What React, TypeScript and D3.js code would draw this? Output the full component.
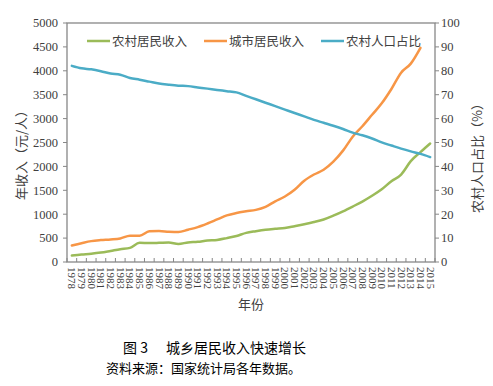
import React from "react";
import * as d3 from "d3";

const years: string[] = [
  "1978","1979","1980","1981","1982","1983","1984","1985","1986","1987",
  "1988","1989","1990","1991","1992","1993","1994","1995","1996","1997",
  "1998","1999","2000","2001","2002","2003","2004","2005","2006","2007",
  "2008","2009","2010","2011","2012","2013","2014","2015",
];

const ruralIncome: (number | null)[] = [
  134, 155, 172, 197, 232, 268, 296, 401, 396, 401,
  408, 378, 410, 423, 450, 462, 500, 545, 610, 645,
  675, 695, 712, 750, 790, 835, 890, 970, 1060, 1160,
  1265, 1385, 1520, 1690, 1830, 2110, 2300, 2480,
];

const urbanIncome: (number | null)[] = [
  345, 394, 437, 458, 472, 493, 549, 549, 641, 648,
  634, 627, 676, 730, 805, 890, 975, 1025, 1060, 1090,
  1155, 1270, 1370, 1510, 1700, 1830, 1930, 2100, 2330, 2622,
  2840, 3080, 3320, 3620, 3960, 4150, 4480, null,
];

const ruralShare: (number | null)[] = [
  82.08, 81.04, 80.61, 79.84, 78.87, 78.38, 76.99, 76.29, 75.48, 74.68,
  74.19, 73.79, 73.59, 73.06, 72.54, 71.99, 71.49, 70.96, 69.52, 68.09,
  66.65, 65.22, 63.78, 62.34, 60.91, 59.47, 58.24, 57.01, 55.66, 54.11,
  53.01, 51.66, 50.05, 48.73, 47.43, 46.27, 45.23, 43.9,
];

const leftTicks: number[] = [0, 500, 1000, 1500, 2000, 2500, 3000, 3500, 4000, 4500, 5000];
const rightTicks: number[] = [0, 10, 20, 30, 40, 50, 60, 70, 80, 90, 100];

const seriesNames: string[] = ["农村居民收入", "城市居民收入", "农村人口占比"];
const seriesColors: string[] = ["#9BBB59", "#F79646", "#4BACC6"];

const leftTitle = "年收入（元/人）";
const rightTitle = "农村人口占比（%）";
const xTitle = "年份";
const captionFig = "图 3";
const captionTitle = "城乡居民收入快速增长";
const captionSource = "资料来源：国家统计局各年数据。";

const W = 493;
const H = 386;
const L = 67;
const R = 435;
const T = 23;
const B = 262;

const serif = "Liberation Serif";
const cjk = "Noto Sans CJK SC";
const axisColor = "#878787";
const textColor = "#404040";

export default function App() {
  const x = d3.scaleBand<string>().domain(years).range([L, R]).padding(0);
  const bw = x.bandwidth();
  const cx = (y: string) => (x(y) as number) + bw / 2;
  const yL = d3.scaleLinear().domain([0, 5000]).range([B, T]);
  const yR = d3.scaleLinear().domain([0, 100]).range([B, T]);

  const mk = (vals: (number | null)[], sc: d3.ScaleLinear<number, number>) =>
    d3
      .line<number | null>()
      .defined((d) => d !== null)
      .x((_, i) => cx(years[i]))
      .y((d) => sc(d as number))
      .curve(d3.curveMonotoneX)(vals) || "";

  const paths = [
    { d: mk(ruralIncome, yL), c: seriesColors[0] },
    { d: mk(urbanIncome, yL), c: seriesColors[1] },
    { d: mk(ruralShare, yR), c: seriesColors[2] },
  ];

  const legendX = [87, 204, 321];
  const legendY = 41;

  const boundaries = years.map((y) => x(y) as number).concat([R]);

  return (
    <svg
      width={W}
      height={H}
      style={{ position: "absolute", left: 0, top: 0, background: "#fff" }}
    >
      <rect x={0} y={0} width={W} height={H} fill="#fff" />
      <rect x={L} y={T} width={R - L} height={B - T} fill="none" stroke={axisColor} strokeWidth={1.3} />

      {leftTicks.map((t) => (
        <g key={"l" + t}>
          <line x1={L - 4} x2={L} y1={yL(t)} y2={yL(t)} stroke={axisColor} strokeWidth={1} />
          <text x={58} y={yL(t)} dy="0.35em" textAnchor="end" fontFamily={serif} fontSize={12.5} fill={textColor}>
            {t}
          </text>
        </g>
      ))}

      {rightTicks.map((t) => (
        <g key={"r" + t}>
          <line x1={R} x2={R + 4} y1={yR(t)} y2={yR(t)} stroke={axisColor} strokeWidth={1} />
          <text x={441} y={yR(t)} dy="0.35em" textAnchor="start" fontFamily={serif} fontSize={12.5} fill={textColor}>
            {t}
          </text>
        </g>
      ))}

      {boundaries.map((bx, i) => (
        <line key={"b" + i} x1={bx} x2={bx} y1={B} y2={B - 4} stroke={axisColor} strokeWidth={1} />
      ))}
      {years.map((y) => (
        <text
          key={"x" + y}
          transform={`translate(${cx(y) - 3.5},267) rotate(90)`}
          fontFamily={serif}
          fontSize={11}
          fill={textColor}
          textAnchor="start"
        >
          {y}
        </text>
      ))}

      {paths.map((p, i) => (
        <path key={"p" + i} d={p.d} fill="none" stroke={p.c} strokeWidth={2.5} strokeLinejoin="round" strokeLinecap="round" />
      ))}

      {seriesNames.map((n, i) => (
        <g key={"lg" + i}>
          <line x1={legendX[i]} x2={legendX[i] + 23} y1={legendY} y2={legendY} stroke={seriesColors[i]} strokeWidth={2.5} />
          <text x={legendX[i] + 25} y={legendY} dy="0.38em" fontFamily={cjk} fontSize={12.5} fill={textColor}>
            {n}
          </text>
        </g>
      ))}

      <text transform={`translate(21,152) rotate(-90)`} textAnchor="middle" dy="0.35em" fontFamily={cjk} fontSize={13} fill={textColor}>
        {leftTitle}
      </text>
      <text transform={`translate(477,155) rotate(-90)`} textAnchor="middle" dy="0.35em" fontFamily={cjk} fontSize={13} fill={textColor}>
        {rightTitle}
      </text>
      <text x={251} y={304} textAnchor="middle" dy="0.35em" fontFamily={cjk} fontSize={13} fill={textColor}>
        {xTitle}
      </text>

      <text x={123} y={348} dy="0.35em" fontFamily={cjk} fontSize={14} fill="#000">
        {captionFig}
      </text>
      <text x={166} y={348} dy="0.35em" fontFamily={cjk} fontSize={14} fill="#000">
        {captionTitle}
      </text>
      <text x={106} y={368} dy="0.35em" fontFamily={cjk} fontSize={13} fill="#000">
        {captionSource}
      </text>
    </svg>
  );
}
